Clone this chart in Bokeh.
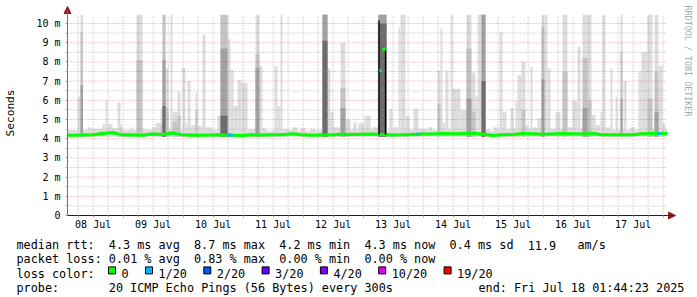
import re
import numpy as np
from bokeh.plotting import figure
from bokeh.models import Range1d, FixedTicker, DatetimeTickFormatter
from bokeh.embed import file_html
from bokeh.resources import INLINE
from bokeh.core.properties import value

# ------------------------------------------------------------------ data
START = "2025-07-08T01:44:23"
END_TEXT = "end: Fri Jul 18 01:44:23 2025"
SPAN_H = 240.0

# median rtt (ms), one value per 4 hours
median_step_h = 4.0
median_ms = [4.18, 4.19, 4.21, 4.27, 4.31, 4.20, 4.19, 4.18, 4.24, 4.22,
             4.30, 4.20, 4.18, 4.18, 4.19, 4.20, 4.18, 4.17, 4.20, 4.19,
             4.20, 4.21, 4.26, 4.20, 4.18, 4.19, 4.20, 4.23, 4.22, 4.23,
             4.24, 4.22, 4.19, 4.20, 4.22, 4.24, 4.25, 4.27, 4.26, 4.27,
             4.28, 4.24, 4.17, 4.20, 4.22, 4.27, 4.26, 4.23, 4.25, 4.27,
             4.26, 4.25, 4.27, 4.21, 4.20, 4.20, 4.21, 4.26, 4.27, 4.27]

# top of the light background smoke, one value per 4 hours
smoke_base_top = [4.45, 4.45, 4.50, 4.50, 4.55, 4.45, 4.45, 4.50, 4.45, 4.50,
                  4.50, 4.45, 4.45, 4.40, 4.45, 4.50, 4.45, 4.45, 4.40, 4.45,
                  4.40, 4.45, 4.45, 4.40, 4.40, 4.45, 4.45, 4.50, 4.45, 4.45,
                  4.45, 4.45, 4.40, 4.45, 4.45, 4.50, 4.45, 4.50, 4.50, 4.50,
                  4.55, 4.50, 4.40, 4.45, 4.50, 4.50, 4.50, 4.50, 4.50, 4.50,
                  4.45, 4.50, 4.50, 4.45, 4.45, 4.45, 4.45, 4.50, 4.50, 4.50]
smoke_bottom = 4.1

# smoke spikes: hours since start, and tops of 4 smoke shades (0 = none)
spike_start_h = [4.0, 5.2, 8.0, 14.0, 15.2, 16.0, 20.0, 21.2, 25.2, 27.6,
                 30.0, 34.0, 35.2, 37.2, 38.0, 39.2, 41.2, 42.0, 44.0, 46.0,
                 47.2, 48.0, 49.2, 51.2, 52.0, 54.0, 55.2, 60.0, 61.2, 64.0,
                 65.2, 66.4, 68.0, 69.6, 72.0, 75.2, 76.8, 78.0, 82.8, 84.0,
                 85.2, 86.0, 90.0, 93.2, 97.2, 102.0, 104.0, 105.2, 106.4, 109.2,
                 111.2, 114.4, 116.4, 118.8, 122.0, 124.4, 128.8, 130.4, 132.4, 133.2,
                 135.2, 138.4, 140.4, 144.4, 148.0, 149.2, 150.0, 151.2, 153.2, 154.0,
                 157.2, 159.6, 161.6, 163.2, 164.0, 165.6, 167.2, 170.4, 172.8, 174.0,
                 177.2, 179.2, 180.0, 181.6, 183.2, 185.2, 186.4, 188.0, 189.6, 190.8,
                 192.0, 195.2, 198.0, 200.0, 202.0, 204.0, 206.0, 208.0, 209.6, 211.2,
                 213.2, 214.0, 215.2, 217.2, 219.2, 221.2, 222.4, 225.2, 228.4, 229.6,
                 232.0, 234.8, 236.4, 238.0]
spike_end_h = [5.2, 6.2, 9.2, 15.2, 16.0, 18.0, 21.2, 21.8, 26.0, 30.0,
               31.2, 35.2, 37.2, 38.0, 39.2, 40.4, 42.0, 44.0, 45.2, 47.2,
               48.0, 49.2, 51.2, 52.0, 54.0, 55.2, 58.0, 61.2, 64.0, 65.2,
               66.4, 68.0, 69.6, 72.0, 75.2, 76.8, 78.0, 79.2, 84.0, 85.2,
               86.0, 88.4, 92.0, 95.2, 99.2, 104.0, 105.2, 106.4, 109.2, 111.2,
               113.2, 115.6, 118.8, 121.2, 124.4, 127.6, 130.0, 132.0, 133.2, 135.2,
               136.8, 140.4, 142.0, 146.0, 149.2, 150.0, 151.2, 152.4, 154.0, 157.2,
               159.6, 161.6, 163.2, 164.0, 165.6, 167.2, 169.2, 172.0, 174.0, 175.6,
               178.4, 180.0, 181.6, 183.2, 184.4, 186.0, 188.0, 189.6, 190.8, 192.0,
               193.2, 197.2, 200.0, 202.0, 204.0, 205.2, 208.0, 209.6, 211.2, 213.2,
               214.0, 215.2, 217.2, 218.0, 220.0, 222.0, 223.6, 226.8, 229.6, 232.0,
               234.0, 236.4, 238.0, 239.2]
smoke_l1 = [6.2, 10.45, 4.6, 4.75, 6.0, 4.75, 5.9, 4.75, 4.6, 10.45,
            4.5, 4.6, 4.8, 5.5, 10.45, 7.65, 10.45, 5.4, 6.45, 7.7,
            4.8, 7.0, 4.7, 6.4, 4.65, 9.4, 4.6, 5.2, 10.45, 9.2,
            7.6, 5.7, 7.05, 6.9, 4.5, 10.45, 7.8, 4.6, 7.8, 5.7,
            10.45, 4.5, 4.6, 4.55, 4.5, 10.45, 7.65, 5.4, 4.6, 9.0,
            5.0, 4.85, 4.8, 5.2, 4.6, 10.45, 5.55, 4.6, 9.8, 10.45,
            5.2, 5.55, 4.5, 4.6, 7.55, 9.75, 4.8, 7.55, 10.45, 6.6,
            5.5, 10.45, 7.45, 6.2, 10.45, 10.45, 4.5, 4.6, 9.55, 5.4,
            5.6, 5.95, 7.3, 8.0, 4.7, 7.75, 4.6, 5.05, 10.45, 10.45,
            7.65, 5.4, 10.45, 4.6, 5.95, 8.8, 10.45, 10.45, 5.25, 4.7,
            5.4, 10.45, 4.6, 7.65, 6.2, 10.45, 7.0, 4.6, 7.5, 8.5,
            10.45, 10.45, 7.8, 4.8]
smoke_l2 = [0, 9.55, 0, 0, 0, 0, 0, 4.6, 0, 8.1,
            0, 0, 0, 4.8, 10.45, 5.6, 0, 4.9, 5.2, 0,
            0, 0, 0, 5.5, 0, 0, 0, 0, 10.45, 0,
            0, 0, 0, 0, 0, 8.4, 0, 0, 0, 0,
            0, 0, 0, 0, 0, 10.45, 0, 0, 0, 6.65,
            0, 0, 0, 0, 0, 10.45, 0, 0, 0, 0,
            0, 0, 0, 0, 5.8, 0, 0, 0, 0, 0,
            0, 8.7, 5.4, 0, 0, 10.45, 0, 0, 0, 0,
            0, 0, 0, 5.5, 0, 0, 0, 0, 9.8, 0,
            0, 0, 7.5, 0, 0, 0, 8.2, 6.0, 0, 0,
            0, 0, 0, 0, 0, 8.5, 0, 0, 0, 0,
            6.1, 7.5, 0, 0]
smoke_l3 = [0, 6.8, 0, 0, 0, 0, 0, 0, 0, 0,
            0, 0, 0, 0, 8.1, 0, 0, 0, 0, 0,
            0, 0, 0, 0, 0, 0, 0, 0, 8.7, 0,
            0, 0, 0, 0, 0, 7.7, 0, 0, 0, 0,
            0, 0, 0, 0, 0, 10.45, 0, 0, 0, 5.6,
            0, 0, 0, 0, 0, 10.45, 0, 0, 0, 0,
            0, 0, 0, 0, 0, 0, 0, 0, 0, 0,
            0, 6.1, 0, 0, 0, 10.45, 0, 0, 0, 0,
            0, 0, 0, 0, 0, 0, 0, 0, 7.1, 0,
            0, 0, 0, 0, 0, 0, 5.6, 0, 0, 0,
            0, 0, 0, 0, 0, 6.1, 0, 0, 0, 0,
            0, 5.4, 0, 0]
smoke_l4 = [0, 0, 0, 0, 0, 0, 0, 0, 0, 0,
            0, 0, 0, 0, 5.7, 0, 0, 0, 0, 0,
            0, 0, 0, 0, 0, 0, 0, 0, 5.2, 0,
            0, 0, 0, 0, 0, 0, 0, 0, 0, 0,
            0, 0, 0, 0, 0, 9.1, 0, 0, 0, 0,
            0, 0, 0, 0, 0, 10.0, 0, 0, 0, 0,
            0, 0, 0, 0, 0, 0, 0, 0, 0, 0,
            0, 0, 0, 0, 0, 7.0, 0, 0, 0, 0,
            0, 0, 0, 0, 0, 0, 0, 0, 0, 0,
            0, 0, 0, 0, 0, 0, 0, 0, 0, 0,
            0, 0, 0, 0, 0, 0, 0, 0, 0, 0,
            0, 0, 0, 0]

# short median excursions during the big spike on 13 Jul
jump_start_h = [124.8, 126.0]
jump_end_h = [125.6, 127.2]
jump_ms = [7.55, 8.65]
edge_h = [124.6, 127.2]
edge_top_ms = [10.15, 8.65]

# periods where the median carried 1/20 loss
loss_start_h = [64.0, 139.6, 236.0]
loss_end_h = [66.0, 140.4, 237.2]

# legend
loss_labels = ["0", "1/20", "2/20", "3/20", "4/20", "10/20", "19/20"]
loss_colors = ["#00ff00", "#00b8ff", "#0059ff", "#5e00ff", "#7e00ff", "#dd00ff", "#ff0000"]
legend_line1 = "median rtt:  4.3 ms avg  8.7 ms max  4.2 ms min  4.3 ms now  0.4 ms sd  11.9   am/s"
legend_line2 = "packet loss: 0.01 % avg  0.83 % max  0.00 % min  0.00 % now"
legend_line3 = "loss color:"
legend_line4 = "probe:       20 ICMP Echo Pings (56 Bytes) every 300s"
y_tick_values = list(range(11))
y_tick_labels = ["0"] + ["%d m" % v for v in range(1, 11)]
day_labels_days = list(range(8, 18))

# ------------------------------------------------------------------ helpers
start_ms = float(np.datetime64(START, "ms").astype(np.int64))
HOUR = 3600_000.0


def t(h):
    return start_ms + np.asarray(h, dtype=float) * HOUR


def day_ms(day, hour):
    return float(np.datetime64("2025-07-%02dT%02d:00:00" % (day, hour), "ms").astype(np.int64))


MONO = "DejaVu Sans Mono"
Y_CLIP = 10.45
PX_H = 0.4          # hours per pixel
PX_V = 1 / 19.2     # ms per pixel
LEFT_PX = 67        # graph left edge, canvas pixels
BASE_PX = 215       # graph bottom edge, canvas pixels
W, H = 697, 297
C_SMOKE = ["#dddddd", "#c4c4c4", "#a2a2a2", "#6c6c6c"]


def cx(px):   # canvas x pixel -> data x
    return float(t((px - LEFT_PX) * PX_H))


def cy(py):   # canvas y pixel -> data y
    return (BASE_PX - py) * PX_V


# ------------------------------------------------------------------ figure: frame = whole canvas
p = figure(width=W, height=H, x_axis_type="datetime",
           x_range=Range1d(cx(0), cx(W)), y_range=Range1d(cy(H), cy(0)),
           output_backend="svg", toolbar_location=None,
           min_border_left=0, min_border_right=0, min_border_top=0, min_border_bottom=0)
p.outline_line_color = None
p.xgrid.visible = False
p.ygrid.visible = False
p.background_fill_color = "white"
p.border_fill_color = "white"

# background smoke
nb = len(smoke_base_top)
b_left = t(np.arange(nb) * median_step_h)
b_right = t((np.arange(nb) + 1) * median_step_h)
p.quad(left=b_left, right=b_right, bottom=smoke_bottom, top=smoke_base_top,
       fill_color=C_SMOKE[0], line_color=None, level="image")

s0 = np.array(spike_start_h)
s1 = np.array(spike_end_h)
levels = [smoke_l1, smoke_l2, smoke_l3, smoke_l4]
for k, lev in enumerate(levels):
    lev = np.minimum(np.array(lev, dtype=float), Y_CLIP)
    m = lev > 0
    p.quad(left=t(s0[m]), right=t(s1[m]), bottom=smoke_bottom, top=lev[m],
           fill_color=C_SMOKE[k], line_color=None, level="image")
    if k == 0:
        med = np.array(median_ms)
        p.quad(left=b_left, right=b_right, bottom=med - 0.1, top=med + 0.09,
               fill_color="#c8c8c8", line_color=None, level="image")

# grid (drawn over the smoke, like rrdtool)
y_minor = [v + 0.5 for v in range(10)]
y_major = list(range(1, 11))
p.segment(x0=t(0), x1=t(SPAN_H), y0=y_minor, y1=y_minor, line_color="#909090",
          line_alpha=0.7, line_dash="1 2", line_width=1, level="underlay")
p.segment(x0=t(0), x1=t(SPAN_H), y0=y_major, y1=y_major, line_color="#e05050",
          line_alpha=0.6, line_dash="1 2", line_width=1, level="underlay")
midnights = [day_ms(d, 0) for d in range(9, 19)]
six_hours = [day_ms(d, hh) for d in range(8, 18) for hh in (6, 12, 18)]
p.segment(x0=six_hours, x1=six_hours, y0=0, y1=Y_CLIP, line_color="#909090",
          line_alpha=0.7, line_dash="1 2", line_width=1, level="underlay")
p.segment(x0=midnights, x1=midnights, y0=0, y1=Y_CLIP, line_color="#e05050",
          line_alpha=0.6, line_dash="1 2", line_width=1, level="underlay")

# median line
centers = t(np.arange(nb) * median_step_h + median_step_h / 2)
mx = np.concatenate([[t(0)], centers, [t(SPAN_H)]])
my = np.concatenate([[median_ms[0]], median_ms, [median_ms[-1]]])
p.line(mx, my, line_color="#00ff00", line_width=3)

# loss-coloured parts of the median
ls0, ls1 = np.array(loss_start_h), np.array(loss_end_h)
p.segment(x0=t(ls0), x1=t(ls1), y0=np.interp(t(ls0), mx, my), y1=np.interp(t(ls1), mx, my),
          line_color=loss_colors[1], line_width=3)

# big spike median excursions
p.segment(x0=t(edge_h), x1=t(edge_h), y0=4.2, y1=edge_top_ms, line_color="black", line_width=1.3)
p.segment(x0=t(jump_start_h), x1=t(jump_end_h), y0=jump_ms, y1=jump_ms,
          line_color="#00ff00", line_width=3)

# axes, placed at the graph origin inside the canvas
ya = p.yaxis[0]
ya.fixed_location = float(t(0))
ya.ticker = FixedTicker(ticks=y_tick_values, minor_ticks=y_minor)
ya.major_label_overrides = dict(zip(y_tick_values, y_tick_labels))
ya.bounds = (0, cy(10))
ya.axis_line_color = "#707070"
ya.major_tick_in = 0
ya.major_tick_out = 2
ya.major_tick_line_color = "#e08080"
ya.minor_tick_in = 0
ya.minor_tick_out = 2
ya.minor_tick_line_color = "#b0b0b0"
ya.major_label_standoff = 5
ya.major_label_text_font = MONO
ya.major_label_text_font_size = "10px"
ya.major_label_text_color = "#000000"
ya.axis_label = "Seconds"
ya.axis_label_text_font = MONO
ya.axis_label_text_font_size = "11.2px"
ya.axis_label_text_font_style = "normal"
ya.axis_label_text_color = "#000000"
ya.axis_label_standoff = 16

xa = p.xaxis[0]
xa.fixed_location = 0.0
noons = [day_ms(d, 12) for d in day_labels_days]
xa.ticker = FixedTicker(ticks=noons, minor_ticks=[v for v in six_hours if v not in noons] + midnights)
fmt = "%d %b"
xa.formatter = DatetimeTickFormatter(microseconds=fmt, milliseconds=fmt, seconds=fmt, minsec=fmt,
                                     minutes=fmt, hourmin=fmt, hours=fmt, days=fmt,
                                     months=fmt, years=fmt)
xa.bounds = (t(0), cx(673))
xa.axis_line_color = "#202020"
xa.major_tick_in = 0
xa.major_tick_out = 2
xa.major_tick_line_color = "#b0b0b0"
xa.minor_tick_in = 0
xa.minor_tick_out = 2
xa.minor_tick_line_color = "#b0b0b0"
xa.major_label_standoff = 1
xa.major_label_text_font = MONO
xa.major_label_text_font_size = "10px"
xa.major_label_text_color = "#000000"

# axis arrows
ARROW = "#902020"
p.patches(xs=[[cx(63.5), cx(70.5), cx(67)], [cx(668), cx(668), cx(675)]],
          ys=[[cy(13), cy(13), cy(6)], [cy(211.5), cy(218.5), cy(215)]],
          fill_color=ARROW, line_color=ARROW)

# rrdtool credit
p.text(x=[cx(687.5)], y=[cy(5)], text=["RRDTOOL / TOBI OETIKER"], angle=-np.pi / 2,
       text_font=value(MONO), text_font_size=value("8.4px"), text_color="#a8a8a8",
       text_align="left", text_baseline="middle")

# ------------------------------------------------------------------ legend below the graph
CW = 7.1
X0 = 16
lx, ly, lt = [], [], []


def put(s, x, y):
    for m in re.finditer(r"\S+(?: \S+)*", s):
        lx.append(cx(x + m.start() * CW))
        ly.append(cy(y))
        lt.append(m.group(0))


put(legend_line1, X0, 244.5)
put(legend_line2, X0, 258.9)
put(legend_line3, X0, 273.3)
put(legend_line4, X0, 287.7)
put(END_TEXT, 478, 287.7)

sq_left = []
xpos = 108.0
for lab in loss_labels:
    sq_left.append(xpos)
    put(lab, xpos + 13, 273.3)
    xpos += 13 + len(lab) * CW + 16.9

p.quad(left=[cx(v) for v in sq_left], right=[cx(v + 7) for v in sq_left],
       bottom=cy(273.4), top=cy(266.4), fill_color=loss_colors, line_color="black", line_width=1)
p.text(x=lx, y=ly, text=lt, text_font=value(MONO), text_font_size=value("11.8px"),
       text_color="black", text_align="left", text_baseline="alphabetic")

open("out.html", "w").write(file_html(p, INLINE))
